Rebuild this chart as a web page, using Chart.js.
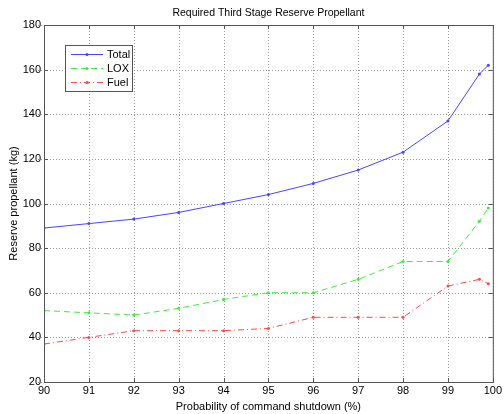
<!DOCTYPE html>
<html>
<head>
<meta charset="utf-8">
<script src="https://cdn.jsdelivr.net/npm/chart.js@4/dist/chart.umd.min.js"></script>
<style>
  html, body { margin: 0; padding: 0; background: #fff; }
  #wrap { width: 504px; height: 414px; }
</style>
</head>
<body>
<div id="wrap"><canvas id="c" width="504" height="414"></canvas></div>
<script>
// values
const probability = [90, 91, 92, 93, 94, 95, 96, 97, 98, 99, 99.7, 99.9];
const total = [89, 91, 93, 96, 100, 104, 109, 115, 123, 137, 158, 162];
const lox   = [52, 51, 50, 53, 57, 60, 60, 66, 74, 74, 92, 98];
const fuel  = [37, 40, 43, 43, 43, 44, 49, 49, 49, 63, 66, 64];

const seriesNames = ['Total', 'LOX', 'Fuel'];
const seriesColors = ['#4646ff', '#3cee3c', '#ff4848'];
const seriesDash = [[], [6, 4], [6, 3, 1, 3]];

const FONT = 'Liberation Sans, Arial, sans-serif';

function pts(arr) {
  return probability.map((p, i) => ({ x: p, y: arr[i] }));
}

// dotted grid under the lines
const matlabGrid = {
  id: 'matlabGrid',
  beforeDatasetsDraw(chart) {
    const { ctx, chartArea: a, scales } = chart;
    ctx.save();
    ctx.strokeStyle = '#999';
    ctx.lineWidth = 1;
    ctx.setLineDash([1, 2]);
    ctx.beginPath();
    scales.x.ticks.forEach(t => {
      const px = Math.round(scales.x.getPixelForValue(t.value)) + 0.5;
      ctx.moveTo(px, a.top); ctx.lineTo(px, a.bottom);
    });
    scales.y.ticks.forEach(t => {
      const py = Math.round(scales.y.getPixelForValue(t.value)) + 0.5;
      ctx.moveTo(a.left - 6, py); ctx.lineTo(a.right, py);
    });
    ctx.stroke();
    ctx.restore();
  }
};

// box, inner ticks, title and legend in matlab style
const matlabFrame = {
  id: 'matlabFrame',
  afterDraw(chart) {
    const { ctx, chartArea: a, scales } = chart;
    ctx.save();
    ctx.strokeStyle = '#555';
    ctx.lineWidth = 1;
    ctx.setLineDash([]);
    ctx.strokeRect(a.left + 0.5, a.top + 0.5, a.right - a.left, a.bottom - a.top);

    // inner ticks
    ctx.beginPath();
    scales.x.ticks.forEach(t => {
      const px = Math.round(scales.x.getPixelForValue(t.value)) + 0.5;
      ctx.moveTo(px, a.bottom); ctx.lineTo(px, a.bottom - 4);
      ctx.moveTo(px, a.top); ctx.lineTo(px, a.top + 4);
    });
    scales.y.ticks.forEach(t => {
      const py = Math.round(scales.y.getPixelForValue(t.value)) + 0.5;
      ctx.moveTo(a.left, py); ctx.lineTo(a.left + 4, py);
      ctx.moveTo(a.right, py); ctx.lineTo(a.right - 4, py);
    });
    ctx.stroke();

    // title
    ctx.fillStyle = '#000';
    ctx.font = '10.5px ' + FONT;
    ctx.textAlign = 'center';
    ctx.textBaseline = 'middle';
    ctx.fillText('Required Third Stage Reserve Propellant', (a.left + a.right) / 2, 13);

    // legend
    const lx = 65, ly = 45, lw = 67, lh = 46;
    ctx.fillStyle = '#fff';
    ctx.fillRect(lx, ly, lw, lh);
    ctx.strokeStyle = '#555';
    ctx.strokeRect(lx + 0.5, ly + 0.5, lw, lh);
    ctx.font = '11px ' + FONT;
    ctx.textAlign = 'left';
    seriesNames.forEach((name, i) => {
      const y = ly + 9 + i * 14 + 0.5;
      ctx.strokeStyle = seriesColors[i];
      ctx.setLineDash(seriesDash[i]);
      ctx.beginPath();
      ctx.moveTo(71, y); ctx.lineTo(103, y);
      ctx.stroke();
      ctx.setLineDash([]);
      ctx.fillStyle = seriesColors[i];
      ctx.beginPath();
      ctx.arc(87, y, 1.5, 0, Math.PI * 2);
      ctx.fill();
      ctx.fillStyle = '#000';
      ctx.fillText(name, 107, y);
    });
    ctx.restore();
  }
};

new Chart(document.getElementById('c'), {
  type: 'scatter',
  data: {
    datasets: [total, lox, fuel].map((arr, i) => ({
      label: seriesNames[i],
      data: pts(arr),
      showLine: true,
      borderColor: seriesColors[i],
      backgroundColor: seriesColors[i],
      borderWidth: 1,
      borderDash: seriesDash[i],
      pointRadius: 1.5,
      pointBorderWidth: 0,
      tension: 0
    }))
  },
  options: {
    responsive: false,
    animation: false,
    layout: { padding: { top: 25, right: 8, left: 0, bottom: 0 } },
    plugins: {
      legend: { display: false },
      title: { display: false },
      tooltip: { enabled: false }
    },
    scales: {
      x: {
        type: 'linear',
        min: 90,
        max: 100,
        afterFit: s => { s.height = 32; },
        ticks: { stepSize: 1, color: '#000', font: { family: FONT, size: 11 }, padding: 2, maxRotation: 0 },
        grid: { display: false, drawTicks: false },
        border: { display: false },
        title: { display: true, text: 'Probability of command shutdown (%)', color: '#000',
                 font: { family: FONT, size: 11 }, padding: { top: 2, bottom: 0 } }
      },
      y: {
        min: 20,
        max: 180,
        afterFit: s => { s.width = 44; },
        ticks: { stepSize: 20, color: '#000', font: { family: FONT, size: 11 }, padding: 3 },
        grid: { display: false, drawTicks: false },
        border: { display: false },
        title: { display: true, text: 'Reserve propellant (kg)', color: '#000',
                 font: { family: FONT, size: 11 }, padding: { top: 7, bottom: 0 } }
      }
    }
  },
  plugins: [matlabGrid, matlabFrame]
});
</script>
</body>
</html>
